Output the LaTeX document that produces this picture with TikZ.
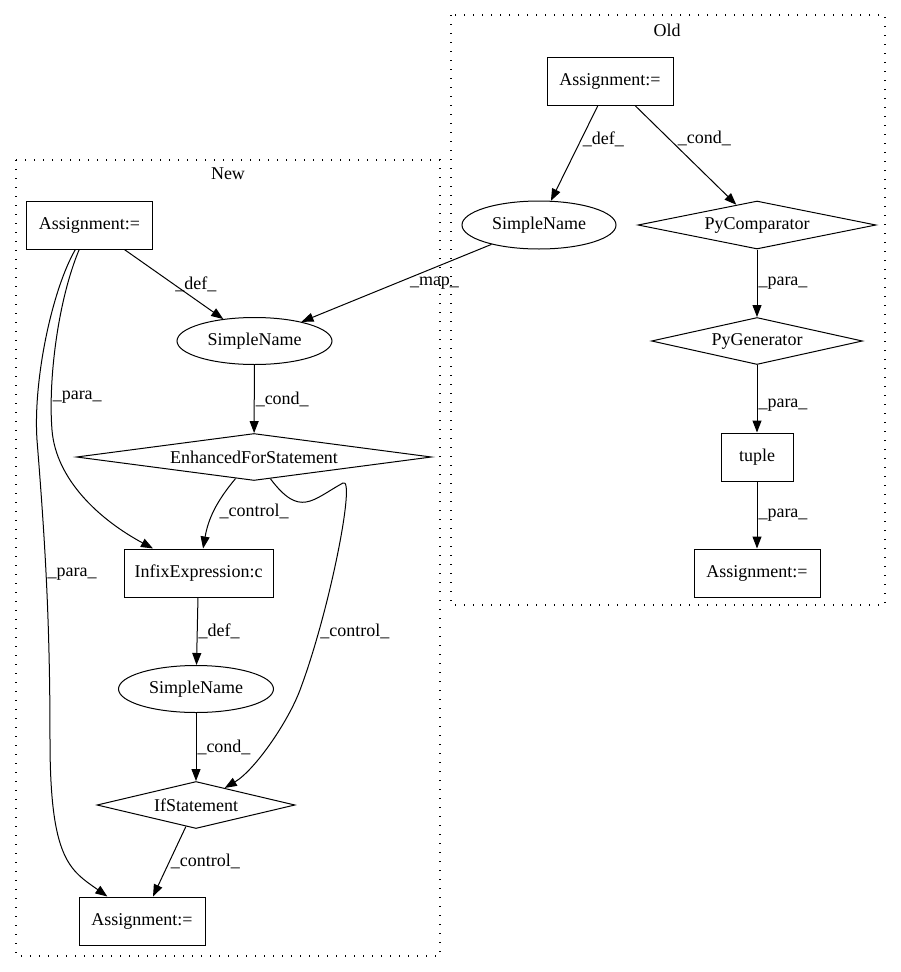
\documentclass[tikz,border=0pt]{standalone}
\usepackage{fontspec}
\setmainfont{Liberation Serif}
\usetikzlibrary{arrows.meta, shapes.geometric}
\newcommand\gvfont{\fontsize{18}{22}\selectfont}

\begin{document}
\begin{tikzpicture}[x=1pt, y=1pt, font=\gvfont, line width=1pt, inner sep=1pt]
            \useasboundingbox (0,0) rectangle (901,-972);
            \tikzset{cluster/.style = {line width=1.3pt, dash pattern=on 1.4pt off 7.6pt}}

            \draw[cluster] (16,-160) rectangle (440,-956);
            \draw[cluster] (451,-15) rectangle (885,-605);
            \node (new) at (228,-174) {New};
            \node (old) at (667,-30) {Old};

            \begin{scope}
              \tikzset{box/.style = {shape=rectangle,draw,inner sep=0pt,minimum width=126pt,minimum height=48pt}}
              \tikzset{oval/.style = {shape=ellipse,draw,inner sep=0pt,minimum width=155pt,minimum height=47pt}}
              \tikzset{cond/.style = {shape=diamond,draw,inner sep=0pt,shape aspect=6,minimum height=47pt}}
              \tikzset{edge/.style = {->, > = {Triangle[length=12pt,width=9pt]}}}

              \node[box] (1) at (89.5,-225) {Assignment:=};
              \node[oval] (2) at (254.5,-341) {SimpleName};
              \node[cond, minimum width=355pt] (3) at (254,-457) {EnhancedForStatement};
              \node[box, minimum width=149pt] (4) at (198.5,-573) {InfixExpression:c};
              \node[oval] (5) at (196,-689) {SimpleName};
              \node[cond, minimum width=198pt] (6) at (196,-805) {IfStatement};
              \node[box] (7) at (142,-921) {Assignment:=};

              \draw[edge] (1) to node[midway, right] {\_def\_} (2);
              \draw[edge] (2) to node[midway, right] {\_cond\_} (3);
              \draw[edge, bend right=15] (3) to node[midway, right=4pt] {\_control\_} (4);
              \draw[edge] (4) to node[midway, right] {\_def\_} (5);
              \draw[edge] (5) to node[midway, right] {\_cond\_} (6);
              \draw[edge] (6) to node[midway, right] {\_control\_} ([xshift=11pt]7.north);
              \draw[edge] (1) .. controls (58,-300) and (48,-380) .. (52,-430) node[pos=0.8, right] {\_para\_}
                .. controls (56,-480) and (100,-520) .. (4);
              \draw[edge] (1) .. controls (52,-290) and (33,-380) .. (37,-440)
                .. controls (45,-540) and (50,-620) .. (50,-740) node[pos=0.47, right] {\_para\_}
                .. controls (50,-860) and (70,-870) .. (7);
              \draw[edge] (3) .. controls (300,-518) and (312,-500) .. (343,-483)
                .. controls (356,-476) and (330,-610) .. (300,-690) node[pos=0.78, right] {\_control\_}
                .. controls (288,-722) and (255,-770) .. (6);
            \end{scope}
            \begin{scope}
              \tikzset{box/.style = {shape=rectangle,draw,inner sep=0pt,minimum width=126pt,minimum height=48pt}}
              \tikzset{oval/.style = {shape=ellipse,draw,inner sep=0pt,minimum width=154pt,minimum height=48pt}}
              \tikzset{cond/.style = {shape=diamond,draw,inner sep=0pt,shape aspect=6,minimum height=47pt}}
              \tikzset{edge/.style = {->, > = {Triangle[length=12pt,width=9pt]}}}

              \node[box] (8) at (610,-81) {Assignment:=};
              \node[oval] (9) at (539,-225) {SimpleName};
              \node[cond, minimum width=238pt, minimum height=48pt] (10) at (757,-225) {PyComparator};
              \node[cond, minimum width=211pt] (11) at (757,-341) {PyGenerator};
              \node[box, minimum width=72pt] (12) at (757,-457) {tuple};
              \node[box] (13) at (757,-573) {Assignment:=};

              \draw[edge] (8) to node[pos=0.35, right] {\_def\_} (9);
              \draw[edge] (8) to node[pos=0.33, right=8pt] {\_cond\_} (10);
              \draw[edge] (10) to node[midway, right] {\_para\_} (11);
              \draw[edge] (11) to node[pos=0.6, right] {\_para\_} (12);
              \draw[edge] (12) to node[midway, right] {\_para\_} (13);
              \draw[edge] (9) to node[midway, right=12pt] {\_map\_} (2);
            \end{scope}
          \end{tikzpicture}
\end{document}
